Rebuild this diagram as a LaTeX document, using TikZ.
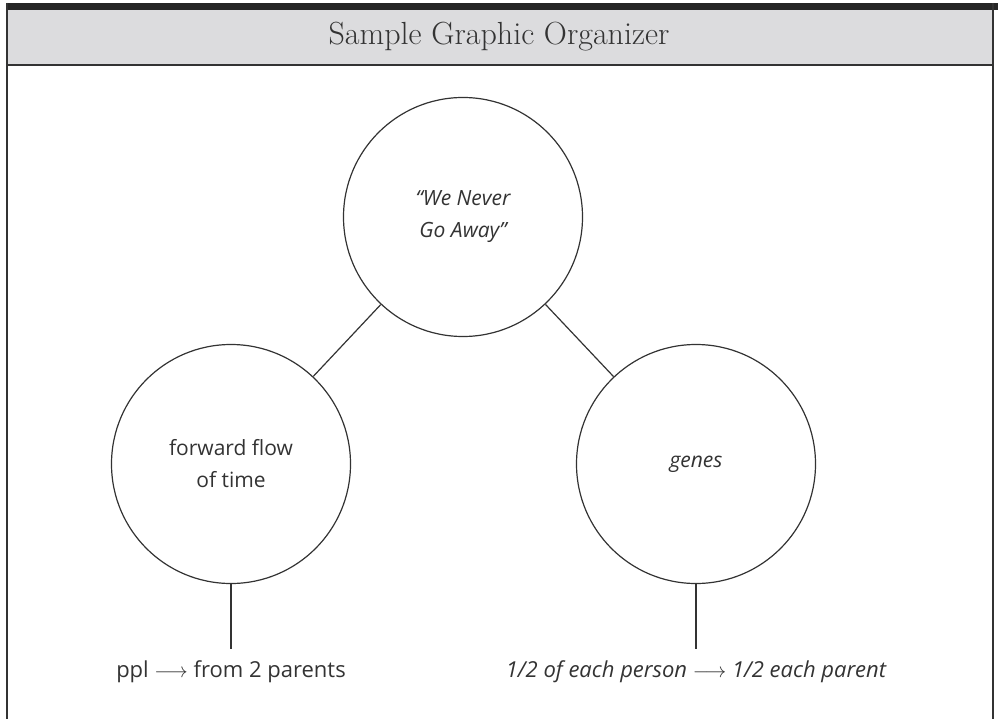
\documentclass[tikz,border=0pt]{standalone}
\usepackage{fontspec}
\newfontfamily\handfont{Open Sans}
\definecolor{inkgray}{HTML}{333333}
\definecolor{headgray}{HTML}{DCDCDE}
\tikzset{
  bubble/.style={draw=inkgray, line width=1.2pt, circle, minimum size=239pt, inner sep=0pt,
    align=center, text=inkgray, font=\handfont\fontsize{21}{32}\selectfont},
  slanted/.style={font=\handfont\itshape\fontsize{21}{32}\selectfont},
  note/.style={anchor=base, text=inkgray, font=\handfont\fontsize{22}{26}\selectfont, inner ysep=11pt},
  link/.style={draw=inkgray, line width=1.2pt},
}
\begin{document}
\begin{tikzpicture}[x=1pt, y=-1pt]
    \useasboundingbox (0,0) rectangle (998,719);

    % header band and frame
    \fill[headgray] (7,9) rectangle (993,65);
    \fill[black!85] (6,3) rectangle (998,10);
    \draw[inkgray, line width=1.3pt] (7,65) -- (993,65);
    \draw[inkgray, line width=1.3pt] (7,3) -- (7,719);
    \draw[inkgray, line width=1.3pt] (993,3) -- (993,719);
    \node[text=inkgray, font=\fontsize{32}{38}\selectfont] (title) at (499,37) {Sample Graphic Organizer};

    \node[bubble, slanted] (theme) at (463,217) {“We Never\\Go Away”};
    \node[bubble] (time) at (231,464) {forward flow\\of time};
    \node[bubble, slanted] (genes) at (696,464) {genes};

    \node[note] (timenote) at (231,677) {ppl $\longrightarrow$ from 2 parents};
    \node[note, font=\handfont\itshape\fontsize{22}{26}\selectfont] (genesnote) at (696,677) {1/2 of each person $\longrightarrow$ 1/2 each parent};

    \draw[link] (theme) -- (time);
    \draw[link] (theme) -- (genes);
    \draw[link] (time.south) -- (timenote.north);
    \draw[link] (genes.south) -- (genesnote.north);
\end{tikzpicture}
\end{document}
